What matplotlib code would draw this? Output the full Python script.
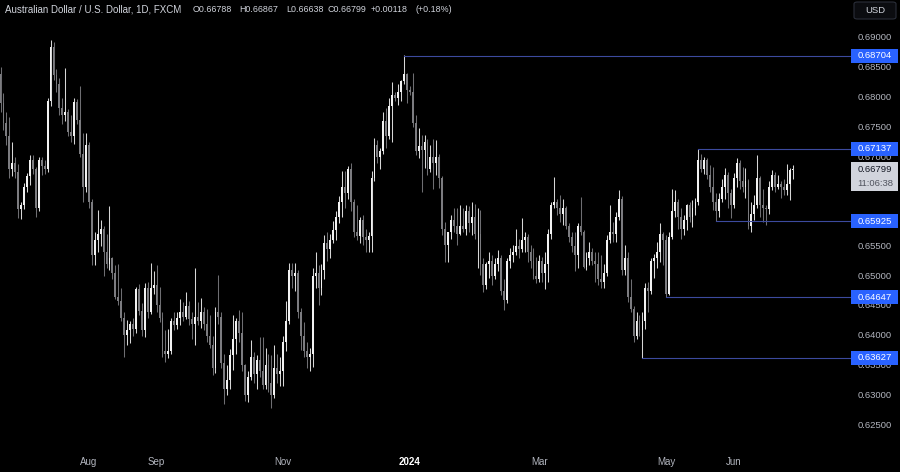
import matplotlib
matplotlib.use("Agg")
import matplotlib.pyplot as plt
from matplotlib.patches import Rectangle, FancyBboxPatch
import numpy as np
import pandas as pd

# AUDUSD daily, FXCM (in pips, 1e-4)
dates = pd.bdate_range("2023-06-20", "2024-07-01")

opens = [
    6840, 6790, 6758, 6735, 6680, 6690, 6675, 6612, 6620, 6650,
    6668, 6695, 6680, 6615, 6695, 6685, 6680, 6795, 6885, 6838,
    6822, 6782, 6770, 6775, 6742, 6735, 6792, 6762, 6705, 6650,
    6720, 6625, 6535, 6560, 6570, 6580, 6540, 6520, 6530, 6505,
    6465, 6458, 6430, 6402, 6410, 6420, 6412, 6478, 6442, 6410,
    6480, 6440, 6480, 6485, 6452, 6430, 6375, 6370, 6375, 6424,
    6418, 6430, 6440, 6432, 6450, 6428, 6420, 6432, 6425, 6440,
    6420, 6400, 6385, 6345, 6440, 6432, 6355, 6310, 6325, 6367,
    6395, 6425, 6405, 6350, 6300, 6330, 6365, 6335, 6360, 6340,
    6318, 6350, 6320, 6300, 6345, 6335, 6340, 6390, 6425, 6510,
    6500, 6505, 6440, 6400, 6375, 6365, 6370, 6500, 6505, 6480,
    6510, 6555, 6545, 6560, 6578, 6600, 6625, 6650, 6640, 6680,
    6625, 6575, 6568, 6595, 6565, 6560, 6568, 6665, 6720, 6700,
    6710, 6760, 6735, 6785, 6805, 6800, 6810, 6828, 6840, 6812,
    6810, 6758, 6710, 6718, 6712, 6725, 6680, 6700, 6690, 6700,
    6665, 6580, 6552, 6575, 6595, 6585, 6570, 6585, 6580, 6610,
    6590, 6600, 6570, 6570, 6520, 6485, 6520, 6525, 6500, 6520,
    6530, 6475, 6460, 6525, 6535, 6540, 6550, 6545, 6560, 6565,
    6540, 6525, 6500, 6495, 6525, 6505, 6520, 6570, 6620, 6625,
    6615, 6605, 6615, 6585, 6565, 6550, 6535, 6585, 6575, 6515,
    6530, 6540, 6525, 6520, 6495, 6490, 6505, 6560, 6575, 6570,
    6600, 6630, 6510, 6530, 6465, 6445, 6400, 6425, 6410, 6425,
    6480, 6475, 6525, 6530, 6540, 6570, 6560, 6470, 6565, 6610,
    6625, 6600, 6580, 6595, 6620, 6600, 6615, 6625, 6695, 6680,
    6695, 6670, 6650, 6625, 6610, 6630, 6650, 6670, 6640, 6620,
    6665, 6690, 6660, 6650, 6660, 6585, 6605, 6620, 6665, 6620,
    6615, 6612, 6650, 6670, 6650, 6655, 6650, 6645, 6655, 6678.8,
]
highs = [
    6851, 6808, 6775, 6767, 6725, 6700, 6688, 6625, 6656, 6673,
    6703, 6704, 6684, 6700, 6700, 6695, 6800, 6897, 6894, 6848,
    6832, 6800, 6849, 6780, 6770, 6800, 6797, 6820, 6740, 6740,
    6725, 6630, 6575, 6611, 6594, 6585, 6570, 6617, 6533, 6519,
    6521, 6480, 6440, 6426, 6424, 6430, 6482, 6487, 6455, 6488,
    6490, 6522, 6508, 6518, 6482, 6440, 6410, 6412, 6430, 6440,
    6440, 6462, 6457, 6474, 6458, 6440, 6513, 6457, 6463, 6448,
    6445, 6435, 6400, 6448, 6502, 6440, 6370, 6350, 6378, 6435,
    6430, 6443, 6440, 6353, 6340, 6393, 6372, 6367, 6398, 6398,
    6380, 6370, 6367, 6384, 6370, 6365, 6400, 6458, 6522, 6522,
    6522, 6510, 6446, 6423, 6390, 6380, 6513, 6541, 6519, 6520,
    6569, 6575, 6570, 6592, 6610, 6635, 6676, 6676, 6685, 6690,
    6630, 6620, 6600, 6603, 6580, 6575, 6676, 6732, 6728, 6716,
    6776, 6782, 6800, 6826, 6810, 6823, 6830, 6871, 6842, 6820,
    6841, 6770, 6748, 6737, 6737, 6731, 6720, 6731, 6728, 6705,
    6668, 6591, 6575, 6603, 6614, 6614, 6619, 6614, 6619, 6617,
    6625, 6622, 6614, 6611, 6530, 6524, 6541, 6535, 6530, 6544,
    6536, 6496, 6530, 6547, 6552, 6580, 6563, 6597, 6575, 6570,
    6552, 6547, 6533, 6535, 6533, 6541, 6580, 6625, 6667, 6630,
    6636, 6630, 6618, 6590, 6575, 6575, 6589, 6633, 6578, 6541,
    6558, 6547, 6541, 6541, 6535, 6520, 6569, 6619, 6591, 6608,
    6645, 6634, 6552, 6541, 6496, 6450, 6440, 6435, 6440, 6488,
    6490, 6530, 6538, 6558, 6589, 6575, 6569, 6575, 6647, 6645,
    6630, 6614, 6603, 6622, 6625, 6628, 6631, 6714, 6705, 6700,
    6698, 6687, 6684, 6640, 6639, 6664, 6681, 6675, 6647, 6673,
    6698, 6695, 6684, 6681, 6664, 6625, 6636, 6703, 6668, 6647,
    6619, 6659, 6678, 6675, 6670, 6659, 6664, 6689, 6681, 6686.7,
]
lows = [
    6775, 6745, 6720, 6665, 6668, 6665, 6597, 6596, 6612, 6641,
    6653, 6672, 6600, 6610, 6670, 6672, 6675, 6785, 6830, 6810,
    6770, 6755, 6760, 6735, 6725, 6722, 6755, 6700, 6625, 6642,
    6614, 6519, 6518, 6540, 6550, 6501, 6513, 6510, 6496, 6462,
    6451, 6424, 6365, 6384, 6387, 6400, 6405, 6435, 6400, 6398,
    6430, 6436, 6470, 6440, 6423, 6365, 6356, 6362, 6370, 6410,
    6412, 6418, 6425, 6428, 6418, 6395, 6384, 6418, 6413, 6410,
    6390, 6380, 6334, 6338, 6420, 6345, 6286, 6300, 6311, 6343,
    6370, 6390, 6340, 6290, 6288, 6325, 6320, 6311, 6330, 6311,
    6310, 6305, 6278, 6295, 6320, 6315, 6315, 6375, 6420, 6480,
    6475, 6430, 6376, 6365, 6345, 6340, 6348, 6480, 6452, 6468,
    6495, 6525, 6530, 6555, 6560, 6590, 6600, 6615, 6630, 6610,
    6566, 6560, 6555, 6552, 6540, 6541, 6541, 6660, 6690, 6680,
    6705, 6715, 6730, 6725, 6795, 6787, 6795, 6822, 6790, 6805,
    6750, 6703, 6698, 6642, 6681, 6670, 6675, 6647, 6670, 6648,
    6569, 6524, 6524, 6563, 6575, 6553, 6569, 6575, 6569, 6575,
    6569, 6563, 6513, 6502, 6474, 6479, 6497, 6485, 6496, 6508,
    6468, 6443, 6455, 6513, 6524, 6535, 6530, 6541, 6541, 6524,
    6513, 6496, 6488, 6490, 6491, 6479, 6491, 6563, 6614, 6603,
    6591, 6586, 6580, 6558, 6541, 6508, 6513, 6569, 6513, 6510,
    6519, 6519, 6491, 6485, 6480, 6480, 6500, 6556, 6558, 6558,
    6595, 6502, 6502, 6457, 6440, 6390, 6395, 6400, 6363, 6412,
    6440, 6470, 6497, 6513, 6524, 6519, 6465, 6468, 6563, 6600,
    6580, 6563, 6569, 6578, 6591, 6583, 6603, 6620, 6675, 6672,
    6664, 6642, 6611, 6593, 6600, 6625, 6630, 6614, 6597, 6615,
    6650, 6647, 6642, 6631, 6580, 6575, 6595, 6615, 6600, 6591,
    6586, 6605, 6645, 6642, 6647, 6631, 6636, 6636, 6628, 6663.8,
]
closes = [
    6790, 6758, 6735, 6680, 6690, 6675, 6612, 6620, 6650, 6668,
    6695, 6680, 6615, 6695, 6685, 6680, 6795, 6885, 6838, 6822,
    6782, 6770, 6775, 6742, 6735, 6792, 6762, 6705, 6650, 6720,
    6625, 6535, 6560, 6570, 6580, 6540, 6520, 6530, 6505, 6465,
    6458, 6430, 6402, 6410, 6420, 6412, 6478, 6442, 6410, 6480,
    6440, 6480, 6485, 6452, 6430, 6375, 6370, 6375, 6424, 6418,
    6430, 6440, 6432, 6450, 6428, 6420, 6432, 6425, 6440, 6420,
    6400, 6385, 6345, 6440, 6432, 6355, 6310, 6325, 6367, 6395,
    6425, 6405, 6350, 6300, 6330, 6365, 6335, 6360, 6340, 6318,
    6350, 6320, 6300, 6345, 6335, 6340, 6390, 6425, 6510, 6500,
    6505, 6440, 6400, 6375, 6365, 6370, 6500, 6505, 6480, 6510,
    6555, 6545, 6560, 6578, 6600, 6625, 6650, 6640, 6680, 6625,
    6575, 6568, 6595, 6565, 6560, 6568, 6665, 6720, 6700, 6710,
    6760, 6735, 6785, 6805, 6800, 6810, 6828, 6840, 6812, 6810,
    6758, 6710, 6718, 6712, 6725, 6680, 6700, 6690, 6700, 6665,
    6580, 6552, 6575, 6595, 6585, 6570, 6585, 6580, 6610, 6590,
    6600, 6570, 6570, 6520, 6485, 6520, 6525, 6500, 6520, 6530,
    6475, 6460, 6525, 6535, 6540, 6550, 6545, 6560, 6565, 6540,
    6525, 6500, 6495, 6525, 6505, 6520, 6570, 6620, 6625, 6615,
    6605, 6615, 6585, 6565, 6550, 6535, 6585, 6575, 6515, 6530,
    6540, 6525, 6520, 6495, 6490, 6505, 6560, 6575, 6570, 6600,
    6630, 6510, 6530, 6465, 6445, 6400, 6425, 6410, 6425, 6480,
    6475, 6525, 6530, 6540, 6570, 6560, 6470, 6565, 6610, 6625,
    6600, 6580, 6595, 6620, 6600, 6615, 6625, 6695, 6680, 6695,
    6670, 6650, 6625, 6610, 6630, 6650, 6670, 6640, 6620, 6665,
    6690, 6660, 6650, 6660, 6585, 6605, 6620, 6665, 6620, 6615,
    6612, 6650, 6670, 6650, 6655, 6650, 6645, 6655, 6679, 6679.9,
]

# horizontal levels drawn on the chart and the bar they start from
levels = [0.68704, 0.67137, 0.65925, 0.64647, 0.63627]
level_dates = ["2023-12-28", "2024-05-16", "2024-05-24", "2024-05-01", "2024-04-19"]

month_labels = ["Aug", "Sep", "Nov", "2024", "Mar", "May", "Jun"]
month_dates = ["2023-08-01", "2023-09-01", "2023-11-01", "2024-01-01",
               "2024-03-01", "2024-05-01", "2024-06-03"]

# 0.660 / 0.665 sit under the last-price and level tags, so they are not shown
price_ticks = [0.625, 0.63, 0.635, 0.64, 0.645, 0.65, 0.655,
               0.67, 0.675, 0.68, 0.685, 0.69]

title = "Australian Dollar / U.S. Dollar, 1D, FXCM"
ohlc_text = ["O0.66788", "H0.66867", "L0.66638", "C0.66799", "+0.00118", "(+0.18%)"]
countdown = "11:06:38"

BG = "#000000"
TXT = "#b2b5be"
UP = "#f2f2f2"
DOWN = "#7c7c80"
LEVEL_LINE = "#3c4a9e"
LEVEL_BOX = "#2962ff"

o = np.array(opens) / 1e4
h = np.array(highs) / 1e4
l = np.array(lows) / 1e4
c = np.array(closes) / 1e4
x = np.arange(len(dates))

W, H = 900, 472
fig = plt.figure(figsize=(W / 100, H / 100), dpi=100, facecolor=BG)
plt.rcParams["font.family"] = ["Liberation Sans", "DejaVu Sans"]

ax_right_px, ax_bottom_px = 845, 452
ax = fig.add_axes([0, 1 - ax_bottom_px / H, ax_right_px / W, ax_bottom_px / H])
ax.set_facecolor(BG)
for s in ax.spines.values():
    s.set_visible(False)
ax.set_xticks([])
ax.set_yticks([])

ymin, ymax = 0.62047, 0.69638
xmin, xmax = -0.17, 286.8
ax.set_ylim(ymin, ymax)
ax.set_xlim(xmin, xmax)
px_y = (ymax - ymin) / ax_bottom_px       # price per pixel
px_x = (xmax - xmin) / ax_right_px        # bars per pixel

up = c >= o
colors = np.where(up, UP, DOWN)
wick_colors = np.where(up, "#d6d6d6", "#6e6e72")
ax.vlines(x, l, h, colors=wick_colors, linewidth=0.75, zorder=2)
body_lo = np.minimum(o, c)
body_h = np.maximum(np.abs(c - o), px_y * 0.9)
ax.bar(x, body_h, bottom=body_lo, width=0.62, color=colors, linewidth=0, zorder=3)

# level lines, running into the price scale
trans = ax.get_yaxis_transform()
for lvl, d in zip(levels, level_dates):
    start = dates.get_loc(pd.Timestamp(d))
    ax.plot([start, xmax + 7 * px_x], [lvl, lvl], color=LEVEL_LINE,
            linewidth=0.8, clip_on=False, zorder=4)

# price scale tick labels
label_x = 875 / ax_right_px
for p in price_ticks:
    ax.text(label_x, p, f"{p:.5f}", transform=trans, ha="center", va="center",
            fontsize=6.8, color=TXT, clip_on=False, zorder=5)

box_x0 = 851 / ax_right_px
box_w = 47 / ax_right_px
for lvl in levels:
    ax.add_patch(Rectangle((box_x0, lvl - 7 * px_y), box_w, 14 * px_y,
                           transform=trans, facecolor=LEVEL_BOX, edgecolor="none",
                           clip_on=False, zorder=6))
    ax.text(label_x, lvl, f"{lvl:.5f}", transform=trans, ha="center", va="center",
            fontsize=6.8, color="white", clip_on=False, zorder=7)

# last price + countdown
last = c[-1]
ax.add_patch(Rectangle((box_x0, last - 22 * px_y), box_w, 29 * px_y,
                       transform=trans, facecolor="#d1d4dc", edgecolor="none",
                       clip_on=False, zorder=6))
ax.text(label_x, last, f"{last:.5f}", transform=trans, ha="center", va="center",
        fontsize=6.8, color="#131722", clip_on=False, zorder=7)
ax.text(label_x, last - 14 * px_y, countdown, transform=trans, ha="center",
        va="center", fontsize=6.8, color="#50535e", clip_on=False, zorder=7)

# time scale labels
for lab, d in zip(month_labels, month_dates):
    pos = dates.get_loc(pd.Timestamp(d))
    bold = lab == "2024"
    ax.text(pos, -10 * px_y + ymin, lab, ha="center", va="center", fontsize=7,
            color="white" if bold else TXT, fontweight="bold" if bold else "normal",
            clip_on=False)

# header
fig.text(5 / W, 1 - 9 / H, title, ha="left", va="center", fontsize=7, color="#d1d4dc")
for t, px in zip(ohlc_text, [193, 239, 286, 328, 371, 416]):
    fig.text(px / W, 1 - 9 / H, t, ha="left", va="center", fontsize=6.4, color="#d1d4dc")

# currency button
fig.patches.append(FancyBboxPatch((854 / W, 1 - 19 / H), 42 / W, 17 / H,
                                  boxstyle="round,pad=0,rounding_size=0.004",
                                  transform=fig.transFigure, facecolor="#0b0c10",
                                  edgecolor="#2a2e39", linewidth=0.8))
fig.text(875 / W, 1 - 10.5 / H, "USD", ha="center", va="center", fontsize=6.8, color="#d1d4dc")

fig.savefig("out.png", dpi=100, facecolor=BG)
plt.close(fig)
